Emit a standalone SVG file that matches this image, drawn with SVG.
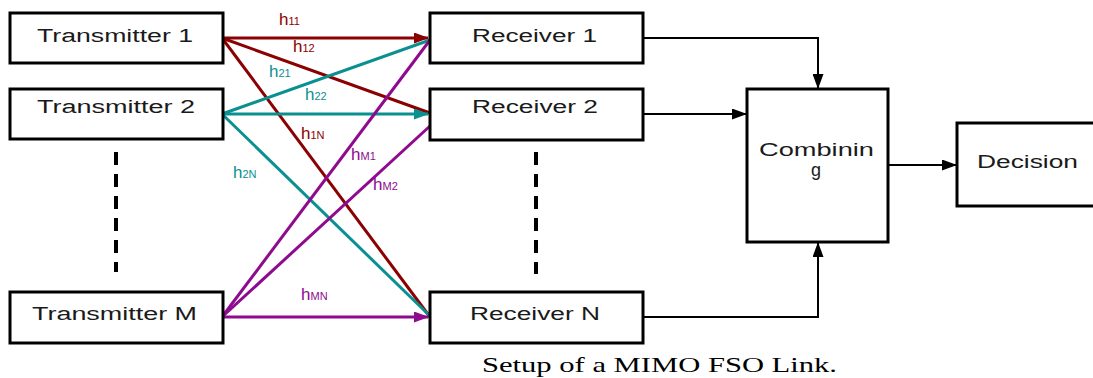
<svg xmlns="http://www.w3.org/2000/svg" width="1093" height="378" viewBox="0 0 1093 378">
<style>
.box{fill:#fff;stroke:#000;stroke-width:3}
.lbl{font-family:"Liberation Sans",Arial,sans-serif;font-size:18px;fill:#1a1a1a}
.dash{stroke:#000;stroke-width:4;stroke-dasharray:13 9;fill:none}
.blk{stroke:#000;stroke-width:2;fill:none}
.red{stroke:#8b0000;stroke-width:3;fill:none}
.teal{stroke:#0a9090;stroke-width:3;fill:none}
.pur{stroke:#8e0a8e;stroke-width:3;fill:none}
.h{font-family:"Liberation Sans",Arial,sans-serif;font-size:17px}
.s{font-size:11px}
.cap{font-family:"Liberation Serif","Times New Roman",serif;font-size:21px;fill:#000}
</style>
<defs>
<marker id="ab" markerWidth="15" markerHeight="11" refX="14" refY="5.5" orient="auto" markerUnits="userSpaceOnUse"><path d="M0,0 L15,5.5 L0,11 Z" fill="#000"/></marker>
<marker id="ar" markerWidth="15" markerHeight="11" refX="14" refY="5.5" orient="auto" markerUnits="userSpaceOnUse"><path d="M0,0 L15,5.5 L0,11 Z" fill="#8b0000"/></marker>
<marker id="at" markerWidth="15" markerHeight="11" refX="14" refY="5.5" orient="auto" markerUnits="userSpaceOnUse"><path d="M0,0 L15,5.5 L0,11 Z" fill="#0a9090"/></marker>
<marker id="ap" markerWidth="15" markerHeight="11" refX="14" refY="5.5" orient="auto" markerUnits="userSpaceOnUse"><path d="M0,0 L15,5.5 L0,11 Z" fill="#8e0a8e"/></marker>
</defs>
<g id="connectors">
<path class="red" d="M222,38 L428,38" marker-end="url(#ar)"/>
<path class="red" d="M222,38 L430,113"/>
<path class="red" d="M222,38 L430,317"/>
<path class="teal" d="M222,114 L430,40"/>
<path class="teal" d="M222,114 L428,114" marker-end="url(#at)"/>
<path class="teal" d="M222,114 L430,316"/>
<path class="pur" d="M222,317 L430,40"/>
<path class="pur" d="M222,317 L430,126"/>
<path class="pur" d="M222,317 L428,317" marker-end="url(#ap)"/>
<path class="blk" d="M643,38 L818,38 L818,88" marker-end="url(#ab)"/>
<path class="blk" d="M643,114 L746,114" marker-end="url(#ab)"/>
<path class="blk" d="M643,317 L818,317 L818,243" marker-end="url(#ab)"/>
<path class="blk" d="M888,165 L956,165" marker-end="url(#ab)"/>
<path class="dash" d="M116,152 L116,272"/>
<path class="dash" d="M536,152 L536,274"/>
</g>
<g id="labels">
<text class="h" x="279" y="25" fill="#8b0000">h<tspan class="s">11</tspan></text>
<text class="h" x="293" y="52" fill="#8b0000">h<tspan class="s">12</tspan></text>
<text class="h" x="269" y="77" fill="#0a9090">h<tspan class="s">21</tspan></text>
<text class="h" x="305" y="100" fill="#0a9090">h<tspan class="s">22</tspan></text>
<text class="h" x="301" y="139" fill="#8b0000">h<tspan class="s">1N</tspan></text>
<text class="h" x="351" y="160" fill="#8e0a8e">h<tspan class="s">M1</tspan></text>
<text class="h" x="233" y="178" fill="#0a9090">h<tspan class="s">2N</tspan></text>
<text class="h" x="373" y="190" fill="#8e0a8e">h<tspan class="s">M2</tspan></text>
<text class="h" x="301" y="300" fill="#8e0a8e">h<tspan class="s">MN</tspan></text>
</g>
<g id="tx1"><rect class="box" x="10" y="13" width="213" height="50"/><text class="lbl" x="37" y="42" textLength="156" lengthAdjust="spacingAndGlyphs">Transmitter 1</text></g>
<g id="tx2"><rect class="box" x="10" y="89" width="213" height="50"/><text class="lbl" x="37" y="113" textLength="158" lengthAdjust="spacingAndGlyphs">Transmitter 2</text></g>
<g id="txM"><rect class="box" x="10" y="292" width="213" height="51"/><text class="lbl" x="32" y="320" textLength="165" lengthAdjust="spacingAndGlyphs">Transmitter M</text></g>
<g id="rx1"><rect class="box" x="430" y="13" width="213" height="50"/><text class="lbl" x="472" y="42" textLength="125" lengthAdjust="spacingAndGlyphs">Receiver 1</text></g>
<g id="rx2"><rect class="box" x="430" y="89" width="213" height="51"/><text class="lbl" x="472" y="113" textLength="126" lengthAdjust="spacingAndGlyphs">Receiver 2</text></g>
<g id="rxN"><rect class="box" x="430" y="292" width="213" height="51"/><text class="lbl" x="470" y="320" textLength="130" lengthAdjust="spacingAndGlyphs">Receiver N</text></g>
<g id="combining"><rect class="box" x="747" y="89" width="141" height="153"/><text class="lbl" x="759" y="156" textLength="115" lengthAdjust="spacingAndGlyphs">Combinin</text><text class="lbl" x="816" y="176" text-anchor="middle">g</text></g>
<g id="decision"><rect class="box" x="957" y="123" width="140" height="83"/><text class="lbl" x="977" y="168" textLength="101" lengthAdjust="spacingAndGlyphs">Decision</text></g>
<text class="cap" x="482" y="372" textLength="355" lengthAdjust="spacingAndGlyphs">Setup of a MIMO FSO Link.</text>
</svg>
